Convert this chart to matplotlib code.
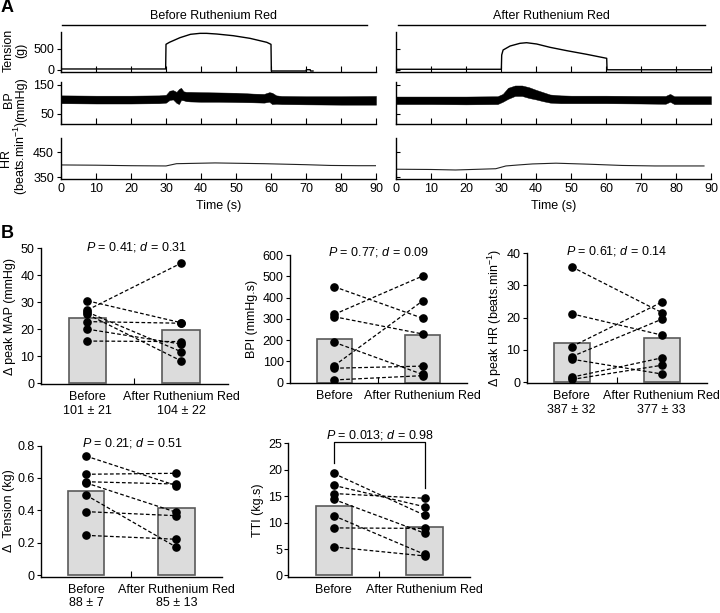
import numpy as np
import matplotlib
matplotlib.use("Agg")
import matplotlib.pyplot as plt
from matplotlib.lines import Line2D

plt.rcParams["font.family"] = ["Liberation Sans", "DejaVu Sans"]
plt.rcParams["font.size"] = 9
plt.rcParams["mathtext.fontset"] = "custom"
plt.rcParams["mathtext.rm"] = "Liberation Sans"
plt.rcParams["mathtext.it"] = "Liberation Sans:italic"
plt.rcParams["axes.linewidth"] = 1.0

# ---- panel A: recordings ----
ten_b_t = [0, 29.9, 30.0, 31, 34, 37, 39.7, 41.6, 44.5, 49.2, 54, 58.8, 60.0, 60.1, 70, 70.1, 71.2, 71.3, 72]
ten_b_g = [24, 24, 612, 660, 770, 850, 873, 873, 857, 817, 754, 659, 611, -24, -24, 7, 7, -24, -24]
ten_a_t = [0, 30.1, 30.2, 30.6, 32.6, 35.4, 37.3, 40.2, 44, 48.8, 54.5, 60.2, 60.3, 90]
ten_a_g = [17, 17, 357, 476, 571, 635, 650, 619, 540, 460, 373, 278, 5, 5]

bp_b_t = [0, 10, 20, 28, 30, 31, 32, 33, 33.7, 34.3, 35, 35.8, 37, 40, 45, 50, 55, 58, 59.5, 60.3, 61.5, 63, 70, 80, 90]
bp_b_hi = [114, 113, 113, 114, 116, 130, 132, 126, 136, 140, 128, 126, 126, 125, 124, 123, 120, 119, 125, 123, 114, 112, 111, 111, 112]
bp_b_lo = [87, 86, 86, 87, 89, 98, 100, 88, 84, 98, 97, 94, 93, 92, 92, 91, 90, 89, 92, 84, 85, 84, 83, 82, 82]
bp_a_t = [0, 10, 20, 29, 30.5, 32, 34, 36, 38, 40, 42, 44, 47, 50, 60, 70, 77, 78.3, 79.5, 82, 90]
bp_a_hi = [110, 110, 110, 111, 119, 140, 148, 148, 142, 133, 125, 117, 114, 113, 113, 112, 112, 119, 111, 111, 111]
bp_a_lo = [84, 84, 83, 84, 92, 102, 112, 112, 105, 100, 94, 89, 87, 87, 87, 86, 85, 92, 84, 84, 84]

hr_b_t = [0, 10, 20, 30, 33, 44, 58, 70, 77, 85, 90]
hr_b = [399, 398, 396, 395, 404, 407, 404, 400, 397, 396, 396]
hr_a_t = [0, 10, 17, 28.5, 31.4, 35, 39, 45.7, 55, 64.6, 74, 88]
hr_a = [382, 381, 379, 384, 395, 399, 403, 406, 402, 397, 395, 395]

# ---- panel B: paired values (before, after) ----
map_before = [30.6, 27.2, 26.4, 25.6, 22.9, 20.1, 15.7]
map_after = [22.5, 44.5, 11.8, 8.4, 22.3, 14.6, 15.5]
bpi_before = [451, 321, 310, 190, 80, 68, 13]
bpi_after = [303, 501, 229, 39, 384, 78, 33]
dhr_before = [35.8, 21.2, 11.0, 7.9, 7.1, 1.5, 0.8]
dhr_after = [21.6, 14.6, 24.8, 19.5, 2.5, 7.5, 5.2]
dten_before = [0.735, 0.623, 0.577, 0.570, 0.495, 0.393, 0.247]
dten_after = [0.553, 0.629, 0.563, 0.389, 0.174, 0.368, 0.223]
tti_before = [19.3, 17.05, 15.5, 14.4, 11.3, 9.0, 5.4]
tti_after = [11.4, 13.0, 14.6, 8.0, 4.0, 8.9, 3.7]

W, H = 720, 613
fig = plt.figure(figsize=(7.2, 6.13), dpi=100)


def box(x0, y0, x1, y1):
    # axes from pixel corners (top-left origin)
    return fig.add_axes([x0 / W, 1 - y1 / H, (x1 - x0) / W, (y1 - y0) / H])


def ftext(x, y, s, **kw):
    fig.text(x / W, 1 - y / H, s, **kw)


def trace_axes(x0, y0, y1, ylim, yticks, left, xlabels=False):
    ax = box(x0, y0, x0 + 315, y1)
    ax.set_xlim(0, 90)
    ax.set_ylim(*ylim)
    ax.spines[["top", "right"]].set_visible(False)
    ax.set_xticks(range(0, 91, 10))
    ax.set_yticks(yticks)
    ax.tick_params(axis="x", direction="in", length=4, width=0.8, labelbottom=xlabels, pad=3)
    ax.tick_params(axis="y", direction="out" if left else "in", length=3, width=0.8,
                   labelleft=left, pad=2)
    return ax


# ---------------- panel A ----------------
for x0, ten_t, ten_g, bpt, bphi, bplo, hrt, hrv, left in [
    (61, ten_b_t, ten_b_g, bp_b_t, bp_b_hi, bp_b_lo, hr_b_t, hr_b, True),
    (396, ten_a_t, ten_a_g, bp_a_t, bp_a_hi, bp_a_lo, hr_a_t, hr_a, False),
]:
    ax = trace_axes(x0, 32, 72, (-48, 905), [0, 500], left)
    ax.plot(ten_t, ten_g, color="black", lw=1.0)
    ax = trace_axes(x0, 82, 124, (15.5, 160), [50, 150], left)
    ax.fill_between(bpt, bplo, bphi, color="black", lw=0.3)
    ax = trace_axes(x0, 138, 179.3, (342, 506), [350, 450], left, xlabels=True)
    ax.plot(hrt, hrv, color="#222222", lw=0.8)
    ax.set_xlabel("Time (s)", labelpad=3)

ftext(214, 16, "Before Ruthenium Red", ha="center", va="center")
ftext(551, 16, "After Ruthenium Red", ha="center", va="center")
fig.add_artist(Line2D([62 / W, 367 / W], [1 - 25 / H] * 2, color="black", lw=1))
fig.add_artist(Line2D([398 / W, 705 / W], [1 - 25 / H] * 2, color="black", lw=1))

ftext(15, 50, "Tension\n(g)", rotation=90, ha="center", va="center", linespacing=1.0)
ftext(15, 100, "BP\n(mmHg)", rotation=90, ha="center", va="center", linespacing=1.0)
ftext(15, 158, "HR\n(beats.min$^{-1}$)", rotation=90, ha="center", va="center", linespacing=1.0)

ftext(1, 8, "A", fontsize=13, fontweight="bold", va="center", ha="left")
ftext(1, 234, "B", fontsize=13, fontweight="bold", va="center", ha="left")


# ---------------- panel B ----------------
def paired(rect, before, after, ylim, yticks, yticklabels, ylabel, ylabel_x, xlabels, stat, stat_xy):
    ax = box(*rect)
    ax.bar([1, 2], [np.mean(before), np.mean(after)], width=0.4, color="#dcdcdc",
           edgecolor="#5a5a5a", linewidth=1.2, zorder=1)
    for b, a in zip(before, after):
        ax.plot([1, 2], [b, a], ls=(0, (3, 1.8)), color="black", lw=0.9, zorder=2)
    ax.plot([1] * len(before), before, "o", color="black", ms=5.2, zorder=3)
    ax.plot([2] * len(after), after, "o", color="black", ms=5.2, zorder=3)
    ax.set_xlim(0.5, 2.5)
    ax.set_ylim(*ylim)
    ax.spines[["top", "right"]].set_visible(False)
    ax.set_yticks(yticks, labels=yticklabels)
    ax.tick_params(axis="y", direction="out", length=3, width=0.8, pad=1.5)
    ax.set_xticks([1, 2], labels=xlabels)
    ax.tick_params(axis="x", which="major", length=0, pad=5)
    ax.set_xticks([1.5], minor=True)
    ax.tick_params(axis="x", which="minor", direction="in", length=4, width=0.8)
    y0, y1 = rect[1], rect[3]
    ftext(ylabel_x, (y0 + y1) / 2, ylabel, rotation=90, ha="center", va="center")
    ftext(stat_xy[0], stat_xy[1], stat, ha="center", va="center")
    return ax


paired((40.7, 248.4, 227.7, 384), map_before, map_after, (-0.2, 50), range(0, 51, 10),
       [str(v) for v in range(0, 51, 10)], "\u0394 peak MAP (mmHg)", 10,
       ["Before\n101 \u00b1 21", "After Ruthenium Red\n104 \u00b1 22"],
       "$P$ = 0.41; $d$ = 0.31", (136, 247))
paired((290, 255, 466.7, 382.7), bpi_before, bpi_after, (0, 600), range(0, 601, 100),
       [str(v) for v in range(0, 601, 100)], "BPI (mmHg.s)", 252,
       ["Before", "After Ruthenium Red"],
       "$P$ = 0.77; $d$ = 0.09", (378, 252))
paired((526.7, 253.3, 706.7, 383), dhr_before, dhr_after, (-0.3, 40), range(0, 41, 10),
       [str(v) for v in range(0, 41, 10)], "\u0394 peak HR (beats.min$^{-1}$)", 495,
       ["Before\n387 \u00b1 32", "After Ruthenium Red\n377 \u00b1 33"],
       "$P$ = 0.61; $d$ = 0.14", (617, 251))
paired((40.7, 445.5, 221.7, 576.7), dten_before, dten_after, (-0.0074, 0.8), [0, 0.2, 0.4, 0.6, 0.8],
       ["0", "0.2", "0.4", "0.6", "0.8"], "\u0394  Tension (kg)", 9,
       ["Before\n88 \u00b1 7", "After Ruthenium Red\n85 \u00b1 13"],
       "$P$ = 0.21; $d$ = 0.51", (132, 443))
ax = paired((288.3, 443.3, 470, 576.7), tti_before, tti_after, (-0.23, 25), range(0, 26, 5),
            [str(v) for v in range(0, 26, 5)], "TTI (kg.s)", 258,
            ["Before", "After Ruthenium Red"],
            "$P$ = 0.013; $d$ = 0.98", (380, 435))
top = 25.2
ax.plot([1, 1, 2, 2], [max(tti_before) + 2, top, top, max(tti_after) + 2],
        color="black", lw=0.9, clip_on=False)

fig.savefig("out.png", dpi=100)
